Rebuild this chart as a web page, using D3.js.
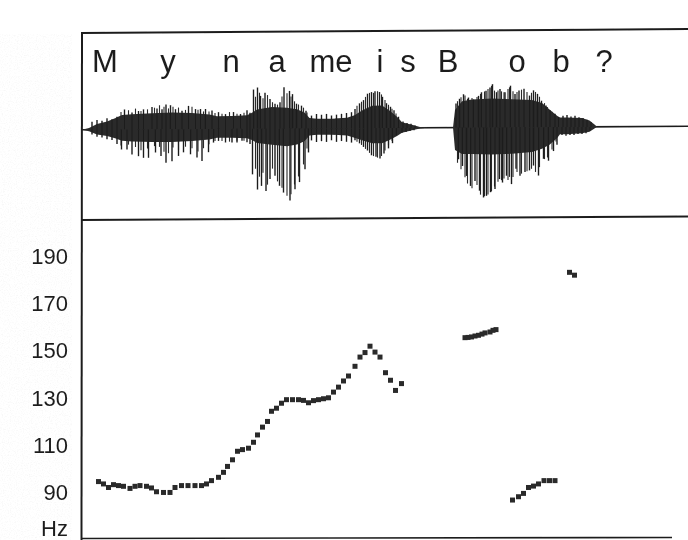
<!DOCTYPE html>
<html>
<head>
<meta charset="utf-8">
<script src="https://cdn.jsdelivr.net/npm/d3@7"></script>
<style>
  html, body { margin: 0; padding: 0; background: #fff; }
  svg { display: block; }
</style>
</head>
<body>
<svg id="chart" width="688" height="540"></svg>
<script>
// ---- Utterance labels (segments written above the waveform) ----
const phoneLabels = ["M", "y", "n", "a", "me", "i", "s", "B", "o", "b", "?"];
const phoneMs     = [46, 172, 298, 390, 498, 596, 652, 732, 870, 958, 1044];

// ---- Pitch axis ticks ----
const hzTicks      = [70, 90, 110, 130, 150, 170, 190];
const hzTickLabels = ["Hz", "90", "110", "130", "150", "170", "190"];

// ---- F0 track (time in ms, frequency in Hz) ----
const pitchMs = [
  33, 43, 53, 63, 73, 83, 96, 106, 116, 129, 139, 149, 163, 176, 186, 199, 212, 226, 239, 249,
  259, 273, 283, 291, 301, 311, 321, 333, 343, 351, 361, 371, 379, 389, 399, 409, 421, 433, 443, 453,
  463, 473, 483, 493, 503, 513, 523, 533, 546, 556, 566, 576, 586, 596, 607, 617, 627, 639,
  766, 772, 779, 786, 793, 800, 806, 816, 822, 828,
  975, 985,
  861, 873, 883, 893, 903, 913, 924, 935, 946
];
const pitchHz = [
  94.7, 93.7, 92.2, 93.4, 93.0, 92.7, 91.8, 92.7, 93.0, 92.7, 92.0, 90.4, 90.1, 90.1, 92.2, 93.0, 93.0, 93.0, 93.0, 93.7,
  95.1, 96.5, 98.6, 101.1, 103.9, 107.5, 108.2, 108.8, 111.3, 114.4, 117.7, 120.1, 124.4, 125.7, 127.8, 129.3, 129.3, 129.3, 129.0, 128.0,
  128.9, 129.3, 129.7, 130.1, 132.5, 134.6, 137.2, 139.3, 143.4, 147.3, 149.2, 151.9, 149.4, 147.3, 140.7, 137.5, 133.2, 136.1,
  155.5, 155.6, 155.8, 156.2, 156.5, 157.0, 157.5, 157.9, 158.6, 158.9,
  183.1, 181.9,
  86.9, 88.3, 89.7, 92.2, 92.8, 93.7, 95.1, 95.1, 95.1
];

// ---- Waveform: dense body envelope (ms, upper / lower amplitude, % of full scale) ----
const coreMs = [0, 14, 30, 50, 66, 80, 100, 140, 180, 220, 255, 270, 300, 330, 340, 350, 380, 410, 430, 445,
  455, 470, 500, 530, 545, 560, 580, 600, 615, 630, 640, 660, 676, 690, 742, 746, 760, 780, 820, 860,
  900, 920, 935, 950, 956, 970, 1000, 1015, 1025, 1030, 1212];
const coreHi = [0, 2, 7, 10, 14, 18, 19, 20, 21, 20, 18, 16, 16, 17, 20, 24, 27, 26, 24, 20,
  13, 12, 12, 13, 16, 22, 28, 28, 22, 14, 7, 4, 1, 0, 0, 22, 33, 35, 36, 35,
  34, 30, 22, 14, 12, 12, 11, 8, 3, 0, 0];
const coreLo = [0, -2, -6, -8, -11, -14, -15, -16, -16, -15, -13, -11, -11, -12, -14, -18, -20, -22, -20, -16,
  -9, -8, -8, -9, -12, -15, -19, -19, -15, -10, -6, -3, -1, 0, 0, -28, -33, -33, -34, -33,
  -31, -27, -22, -14, -9, -9, -8, -6, -2, 0, 0];

// ---- Waveform: positive pulse peaks ----
const upMs = [20, 30, 40, 50, 60, 70,
  85, 100, 113, 123, 140, 150, 160, 168, 177, 187, 200, 213, 227, 237, 247, 260, 273, 287, 303, 317, 330, 336,
  343, 351, 357, 366, 376, 386, 396, 404, 415, 421, 429, 439, 448,
  459, 469, 479, 489, 499, 509, 519, 529, 539,
  546, 555, 563, 571, 579, 586, 595, 601, 609, 617, 624, 633,
  642, 650, 658, 666,
  748, 755, 763, 773, 783, 793, 799, 808, 816, 821, 829, 836, 846, 857, 866, 874, 884, 895, 903, 911, 919, 928, 936, 946, 953,
  962, 970, 978, 986, 994, 1002, 1010, 1018];
const upAmp = [10, 12, 11, 14, 13, 16,
  25, 21, 23, 25, 28, 26, 25, 31, 30, 25, 23, 29, 25, 25, 25, 23, 21, 18.5, 21, 18.5, 23, 20,
  49, 51.5, 41, 45, 37, 31, 33, 51.5, 47, 43, 31, 28.5, 22,
  16, 18, 17, 18, 16, 17, 18, 19, 20,
  24, 31, 35, 43, 45, 46, 45, 39, 31, 26.5, 22, 14,
  8, 6, 5, 3,
  30, 36, 41.6, 37.5, 35, 39.5, 44, 46, 50, 54, 44, 48, 44, 52, 41.6, 46, 48, 39.5, 46, 41.6, 33, 27, 21, 16.6, 12.5,
  14, 15, 13, 14, 12, 11, 9, 6];

// ---- Waveform: negative pulse peaks ----
const downMs = [20, 30, 40, 50, 60, 70,
  79, 90, 100, 113, 123, 133, 147, 158, 168, 180, 193, 203, 217, 230, 240, 253, 263, 273, 287, 300, 310, 320, 330, 336,
  341, 351, 359, 368, 376, 386, 395, 403, 416, 426, 435, 446, 453,
  459, 469, 479, 489, 499, 509, 519, 529, 539,
  546, 555, 563, 571, 579, 588, 596, 604, 613, 621, 629,
  640, 648, 656, 664,
  753, 761, 769, 777, 786, 795, 803, 809, 817, 826, 835, 841, 849, 859, 868, 876, 886, 895, 903, 913, 923, 933, 943, 950,
  960, 968, 976, 984, 992, 1000, 1008, 1016];
const downAmp = [-6, -9, -10, -12, -13, -18,
  -25, -25, -31.5, -33.5, -35.6, -35.6, -29, -33.5, -42, -40, -33.5, -29, -31.5, -35.6, -40, -29, -17, -15, -17, -17, -17, -15, -17, -19,
  -57, -76, -71.5, -78, -63, -59, -71.5, -80, -90, -76, -67, -51, -30,
  -15, -17, -16, -17, -15, -17, -16, -17, -18,
  -15, -19, -23.5, -28, -34, -36, -38, -32, -25.5, -19, -9,
  -6, -5, -4, -3,
  -39.6, -48, -60.5, -73, -67, -79, -87.5, -85.5, -81, -77, -64.6, -69, -60.5, -71, -52, -60.5, -56, -54, -48, -60.5, -39.6, -42, -30, -22,
  -10, -11, -10, -10, -9, -9, -8, -5];

// ---- Waveform: secondary oscillations between the main pulses ----
const hairMs = [78, 93, 107, 118, 131, 145, 155, 164, 173, 182, 193, 207, 220, 232, 243, 254, 266, 280, 295, 310, 324,
  347, 355, 362, 371, 381, 391, 400, 410, 418, 425, 433, 443, 450,
  550, 559, 567, 575, 583, 591, 599, 606, 613, 620, 628,
  751, 758, 766, 771, 780, 790, 797, 805, 812, 819, 825, 832, 839, 844, 852, 855, 862, 870, 879, 890, 899, 907, 915, 925, 931, 940, 948];
const hairHi = [22, 24, 26, 23, 25, 27, 30, 28, 26, 28, 27, 24, 28, 24, 22, 22, 20, 19, 21, 19, 20,
  40, 45, 38, 42, 33, 30, 40, 44, 40, 34, 30, 26, 20,
  28, 33, 39, 44, 44, 46, 42, 35, 29, 24, 18,
  33, 38, 40, 36, 37, 38, 42, 45, 48, 52, 46, 46, 45, 44, 48, 50, 45, 44, 47, 44, 43, 44, 38, 30, 25, 19, 14];
const hairLo = [-20, -19, -22, -26, -24, -21, -22, -28, -30, -23, -26, -22, -24, -28, -24, -19, -15, -15, -16, -15, -15,
  -50, -60, -55, -70, -50, -66, -74, -84, -82, -70, -60, -45, -25,
  -17, -21, -26, -31, -35, -37, -35, -28, -22, -16, -10,
  -44, -52, -62, -70, -76, -72, -84, -86, -84, -80, -74, -68, -66, -64, -66, -62, -62, -56, -58, -55, -52, -56, -50, -40, -38, -28, -18];

// ---- Layout ----
const W = 688, H = 540;
const svg = d3.select("#chart");
const ink = "#1f1f1f";
const fontFamily = "'Liberation Sans', Arial, Helvetica, sans-serif";

const x = d3.scaleLinear().domain([0, 1212]).range([82, 688]);
const yHz = d3.scaleLinear().domain([90, 190]).range([492.7, 256]);
const amp = d3.scaleLinear().domain([-100, 100]).range([80, -80]);
const base = d3.scaleLinear().domain([0, 1212]).range([129.7, 126.3]);
const yWave = (t, a) => base(t) + amp(a);

// soft print look
const defs = svg.append("defs");
defs.append("filter").attr("id", "soft")
  .append("feGaussianBlur").attr("stdDeviation", 0.45);
const grain = defs.append("filter").attr("id", "grain")
  .attr("x", 0).attr("y", 0).attr("width", 1).attr("height", 1);
grain.append("feTurbulence").attr("type", "fractalNoise")
  .attr("baseFrequency", 0.85).attr("numOctaves", 2).attr("seed", 7).attr("result", "n");
grain.append("feColorMatrix").attr("in", "n").attr("type", "matrix")
  .attr("values", "0 0 0 0 0.55  0 0 0 0 0.55  0 0 0 0 0.55  0 0 0 -2.6 1.35");

svg.append("rect").attr("width", W).attr("height", H).attr("fill", "#fff");
// paper grain in the left margin
svg.append("rect").attr("x", 0).attr("y", 34).attr("width", 72).attr("height", 506)
  .attr("filter", "url(#grain)").attr("opacity", 0.14);

const g = svg.append("g").attr("filter", "url(#soft)");

// ---- Frame ----
const frame = g.append("g").attr("stroke", ink).attr("stroke-width", 2).attr("fill", "none");
frame.append("line").attr("x1", 82).attr("y1", 33).attr("x2", 688).attr("y2", 29);
frame.append("line").attr("x1", 82).attr("y1", 220).attr("x2", 688).attr("y2", 216.5);
frame.append("line").attr("x1", 82).attr("y1", 32).attr("x2", 81.5).attr("y2", 540);
frame.append("line").attr("x1", 82).attr("y1", 538.5).attr("x2", 672).attr("y2", 537.5)
  .attr("stroke-width", 1.6);

// ---- Waveform ----
const wave = g.append("g");
wave.append("line")
  .attr("x1", x(0)).attr("y1", base(0)).attr("x2", x(1212)).attr("y2", base(1212))
  .attr("stroke", ink).attr("stroke-width", 1.6);

const coreData = coreMs.map((t, i) => ({ t, hi: coreHi[i], lo: coreLo[i] }));
wave.append("path")
  .datum(coreData)
  .attr("fill", "#2c2c2c")
  .attr("d", d3.area()
    .x(d => x(d.t))
    .y0(d => yWave(d.t, d.lo))
    .y1(d => yWave(d.t, d.hi)));

wave.selectAll("line.hair")
  .data(hairMs.map((t, i) => ({ t, hi: hairHi[i], lo: hairLo[i] })))
  .join("line").attr("class", "hair")
  .attr("x1", d => x(d.t)).attr("x2", d => x(d.t))
  .attr("y1", d => yWave(d.t, d.lo)).attr("y2", d => yWave(d.t, d.hi))
  .attr("stroke", "#2a2a2a").attr("stroke-width", 1.1);

wave.selectAll("line.up")
  .data(upMs.map((t, i) => ({ t, a: upAmp[i] })))
  .join("line").attr("class", "up")
  .attr("x1", d => x(d.t)).attr("x2", d => x(d.t))
  .attr("y1", d => yWave(d.t, 0)).attr("y2", d => yWave(d.t, d.a))
  .attr("stroke", ink).attr("stroke-width", 1.4);

wave.selectAll("line.down")
  .data(downMs.map((t, i) => ({ t, a: downAmp[i] })))
  .join("line").attr("class", "down")
  .attr("x1", d => x(d.t)).attr("x2", d => x(d.t))
  .attr("y1", d => yWave(d.t, 0)).attr("y2", d => yWave(d.t, d.a))
  .attr("stroke", ink).attr("stroke-width", 1.4);

// ---- Segment labels ----
g.append("g")
  .selectAll("text")
  .data(phoneLabels)
  .join("text")
  .attr("x", (d, i) => x(phoneMs[i]))
  .attr("y", 72)
  .attr("text-anchor", "middle")
  .attr("font-family", fontFamily)
  .attr("font-size", 31)
  .attr("fill", ink)
  .text(d => d);

// ---- Pitch axis ----
const axis = g.append("g")
  .attr("transform", "translate(82,0)")
  .call(d3.axisLeft(yHz)
    .tickValues(hzTicks)
    .tickFormat((d, i) => hzTickLabels[i])
    .tickSize(0)
    .tickPadding(14));
axis.select(".domain").remove();
axis.selectAll("text")
  .attr("font-family", fontFamily)
  .attr("font-size", 22)
  .attr("fill", ink);
// unit label kept fully inside the bottom edge
axis.selectAll(".tick").filter(d => d === 70).select("text").attr("y", -12);

// ---- F0 track ----
const sq = 5;
g.append("g")
  .selectAll("rect")
  .data(pitchMs.map((t, i) => ({ t, hz: pitchHz[i] })))
  .join("rect")
  .attr("x", d => x(d.t) - sq / 2)
  .attr("y", d => yHz(d.hz) - sq / 2)
  .attr("width", sq)
  .attr("height", sq)
  .attr("fill", "#2b2b2b");
</script>
</body>
</html>
